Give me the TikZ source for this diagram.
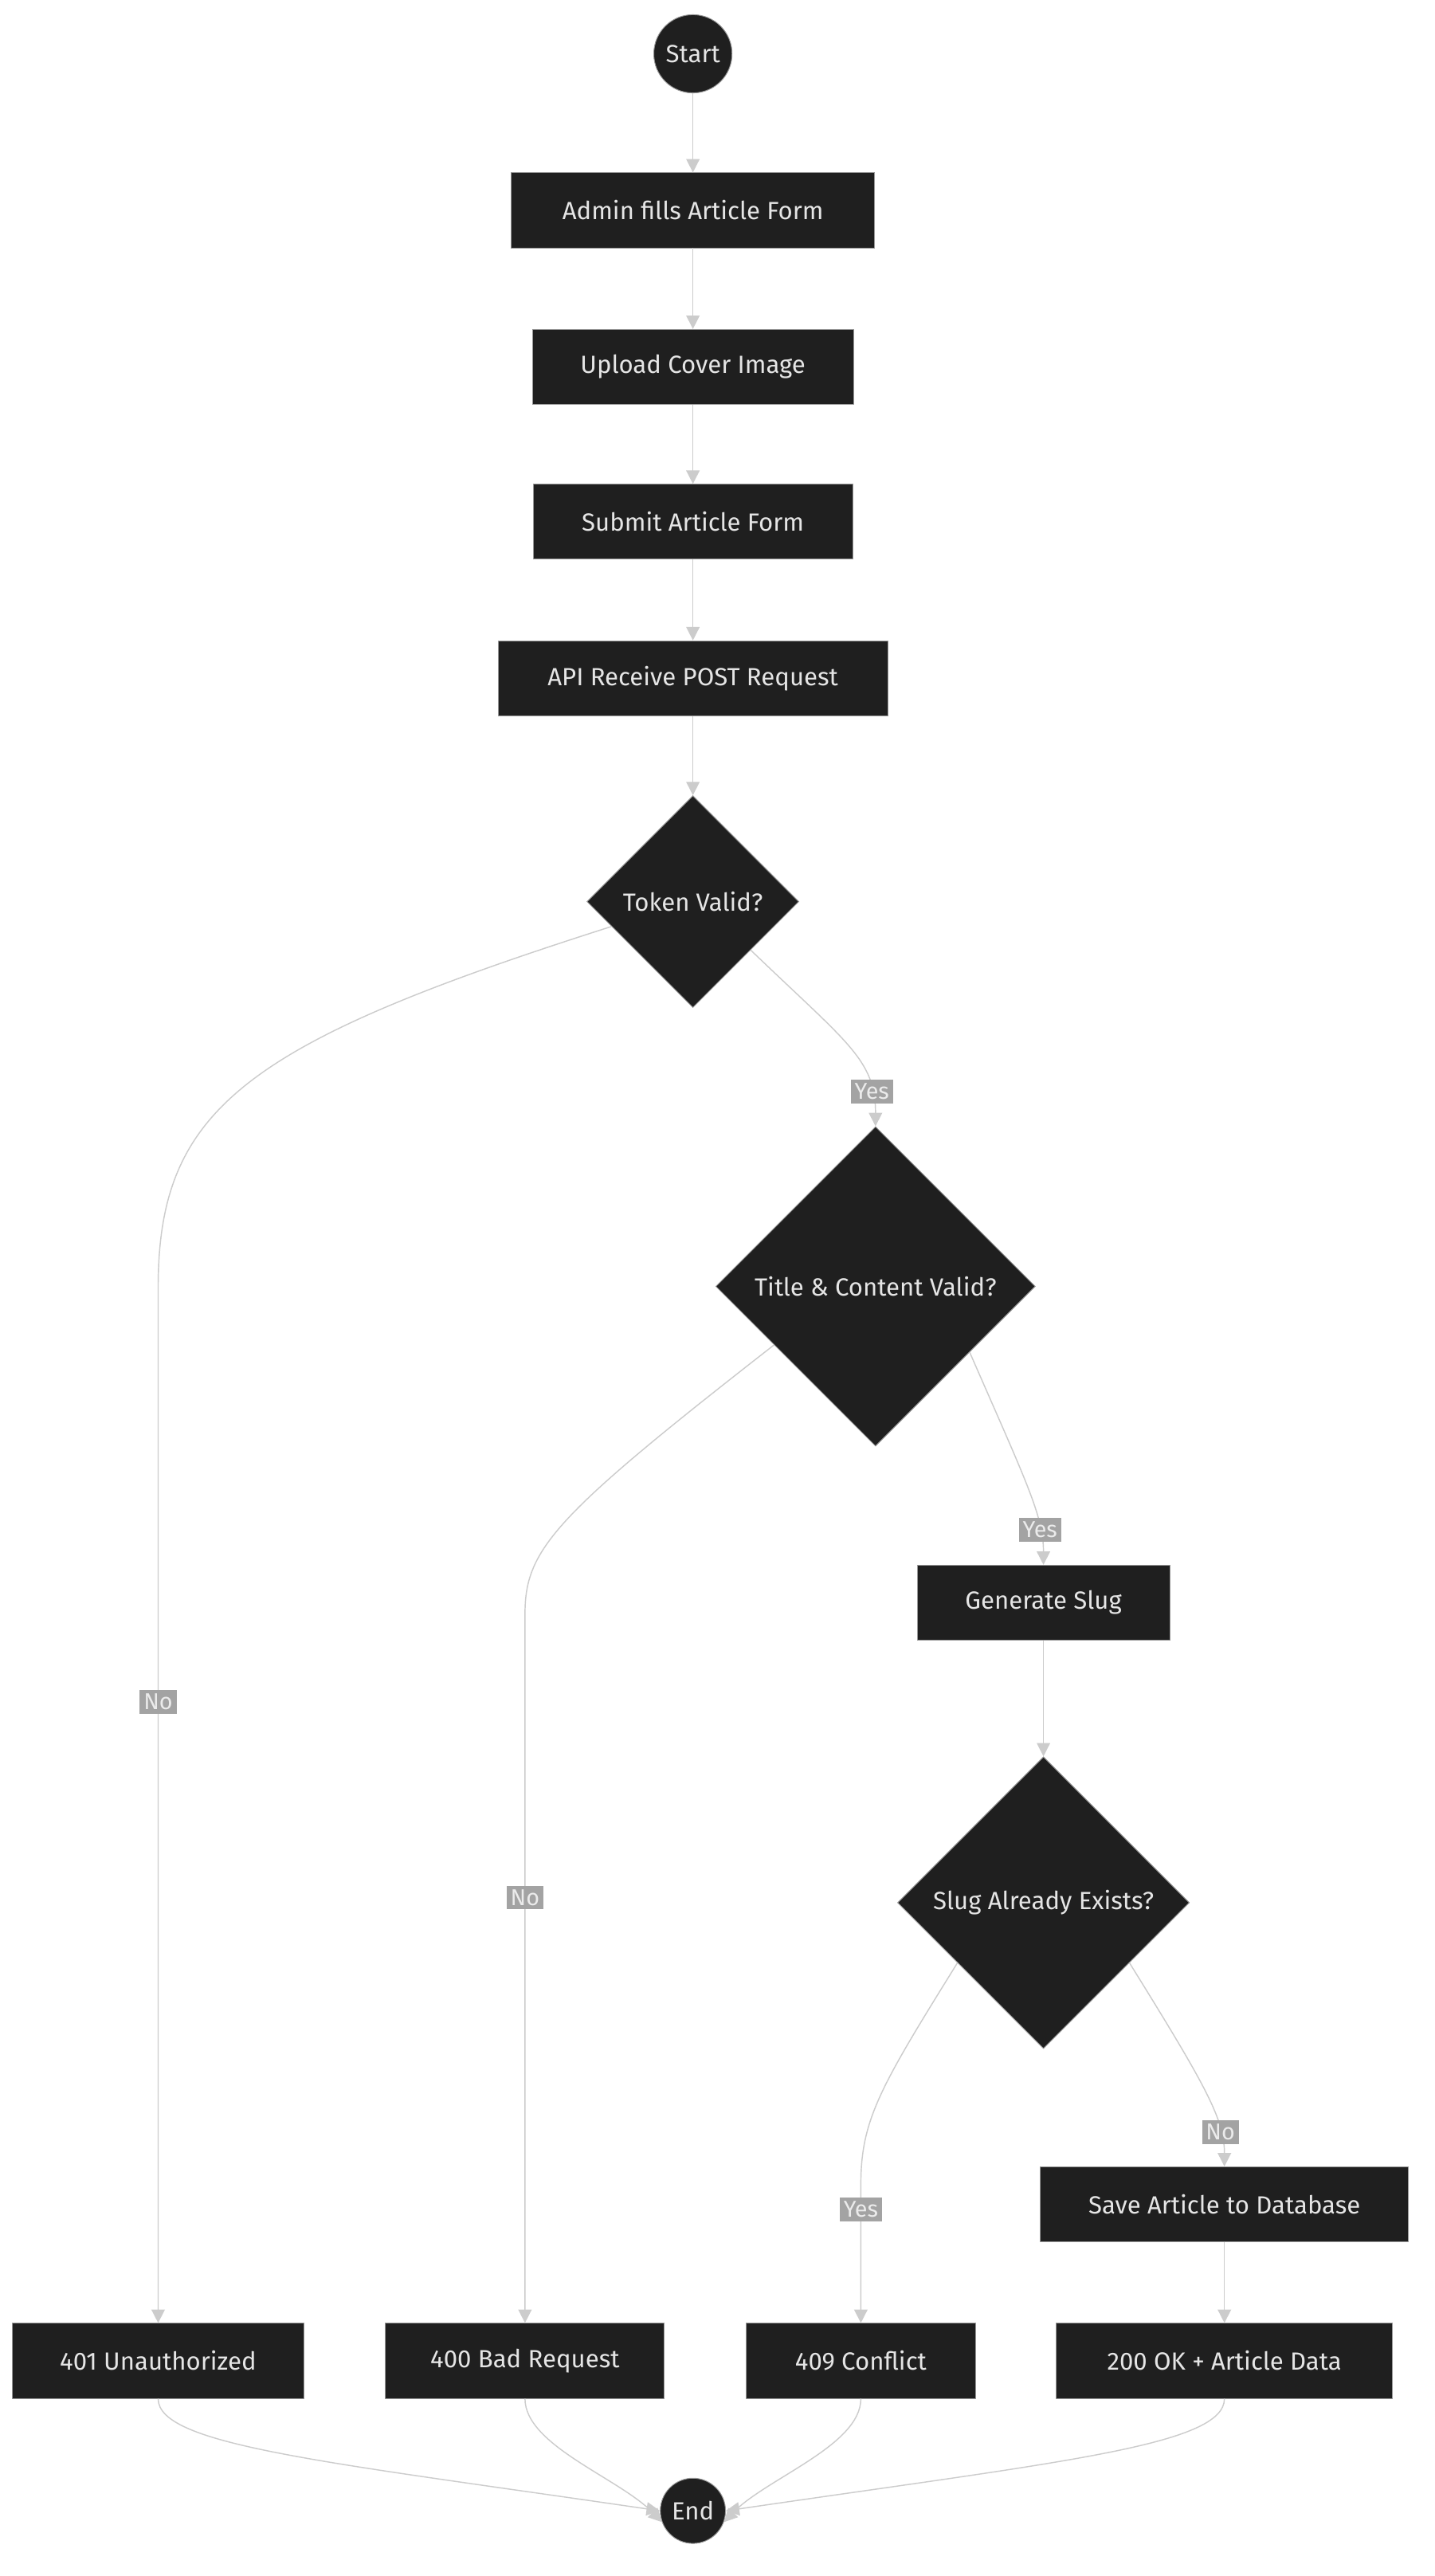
\documentclass[tikz,border=0pt]{standalone}
\usepackage{fontspec}
\setmainfont{Fira Sans}
\usetikzlibrary{shapes.geometric,arrows.meta}
\definecolor{nd}{HTML}{1F1F1F}
\definecolor{ln}{HTML}{CCCCCC}
\definecolor{lb}{HTML}{A3A3A3}
\begin{document}
\begin{tikzpicture}[x=0.03cm,y=-0.03cm,
  base/.style={fill=nd,draw=ln!70!nd,line width=0.4pt,text=white!90!black,font=\fontsize{13}{15}\selectfont,inner sep=0pt},
  box/.style={base,rectangle,minimum height=1.38cm},
  circ/.style={base,circle},
  dia/.style={base,diamond,aspect=1},
  e/.style={draw=ln,line width=0.6pt,-{Triangle[length=7pt,width=7pt]}},
  lab/.style={fill=lb,text=white!92!black,font=\fontsize{12}{14}\selectfont,inner sep=2pt}]
\useasboundingbox[fill=white] (0,0) rectangle (880,1580);
\node[circ,minimum size=1.44cm] (start) at (425,33) {Start};
\node[box,minimum width=6.69cm] (admin) at (425,129) {Admin fills Article Form};
\node[box,minimum width=5.91cm] (upl) at (425,225) {Upload Cover Image};
\node[box,minimum width=5.88cm] (sub) at (425,320) {Submit Article Form};
\node[box,minimum width=7.17cm] (api) at (425,416) {API Receive POST Request};
\node[dia,minimum size=3.9cm] (tok) at (425,553) {Token Valid?};
\node[dia,minimum size=5.88cm] (tit) at (537,789) {Title \& Content Valid?};
\node[box,minimum width=4.65cm] (gen) at (640,983) {Generate Slug};
\node[dia,minimum size=5.37cm] (slug) at (640,1167) {Slug Already Exists?};
\node[box,minimum width=6.78cm] (save) at (751,1352) {Save Article to Database};
\node[box,minimum width=5.37cm] (u401) at (97,1448) {401 Unauthorized};
\node[box,minimum width=5.13cm] (b400) at (322,1448) {400 Bad Request};
\node[box,minimum width=4.23cm] (c409) at (528,1448) {409 Conflict};
\node[box,minimum width=6.18cm] (ok200) at (751,1448) {200 OK + Article Data};
\node[circ,minimum size=1.2cm] (end) at (425,1540) {End};
\draw[e] (start) -- (admin);
\draw[e] (admin) -- (upl);
\draw[e] (upl) -- (sub);
\draw[e] (sub) -- (api);
\draw[e] (api) -- (tok);
\draw[e] (tok.197) .. controls (150,640) and (97,680) .. (97,790) -- node[lab,pos=0.4]{No} (u401);
\draw[e] (tok.-40) .. controls (520,640) and (537,650) .. node[lab,pos=0.8]{Yes} (tit.north);
\draw[e] (tit.210) .. controls (340,930) and (322,950) .. (322,990) -- node[lab,pos=0.4]{No} (b400);
\draw[e] (tit.-35) .. controls (630,910) and (640,930) .. node[lab,pos=0.75]{Yes} (gen.north);
\draw[e] (gen) -- (slug);
\draw[e] (slug.215) .. controls (540,1280) and (528,1300) .. (528,1340) -- (c409.north) node[lab,pos=0.18]{Yes};
\draw[e] (slug.-35) .. controls (740,1280) and (751,1300) .. node[lab,pos=0.75]{No} (save.north);
\draw[e] (save) -- (ok200);
\draw[e] (u401.south) .. controls (97,1500) and (200,1510) .. (end.west);
\draw[e] (b400.south) .. controls (322,1500) and (380,1520) .. (end.200);
\draw[e] (c409.south) .. controls (528,1500) and (470,1520) .. (end.-20);
\draw[e] (ok200.south) .. controls (751,1500) and (650,1510) .. (end.east);
\end{tikzpicture}
\end{document}
